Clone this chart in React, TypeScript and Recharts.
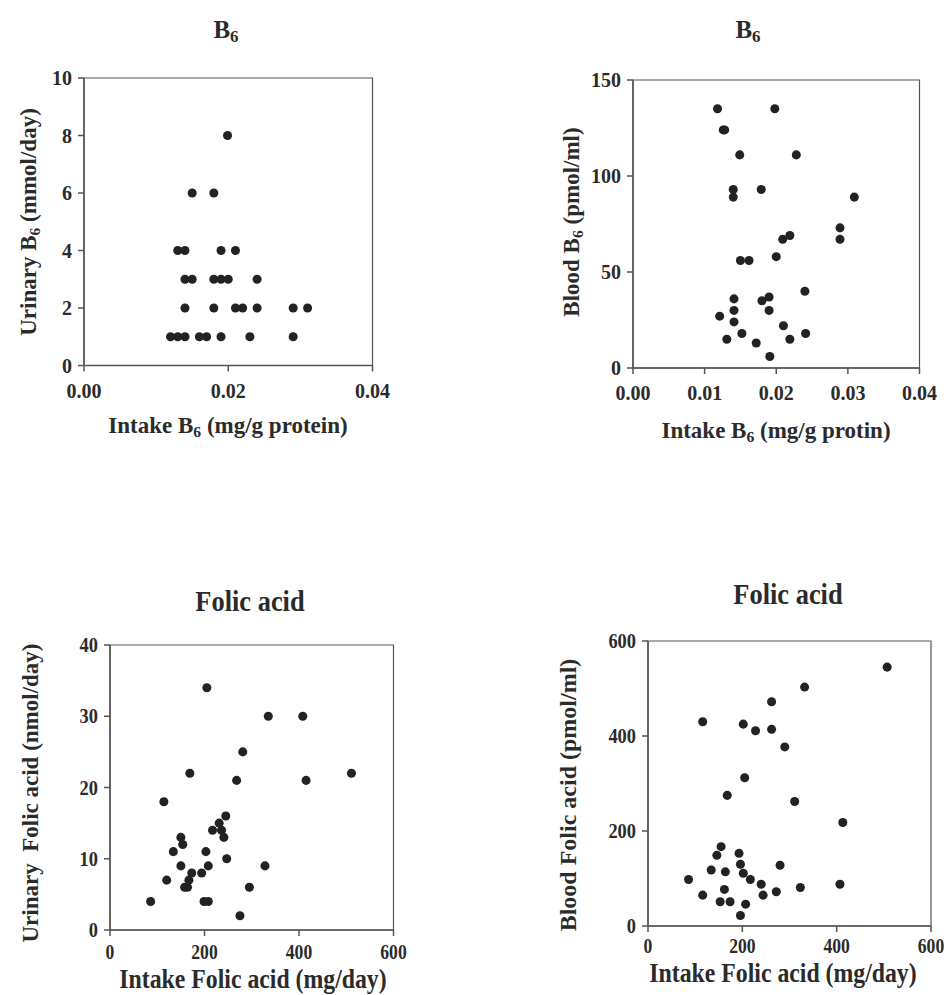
import React from 'react';
import { ScatterChart, Scatter, XAxis, YAxis, ReferenceArea } from 'recharts';

// B6: urinary excretion vs intake
const b6UrinaryIntake = [
  0.0199, 0.015, 0.018, 0.013, 0.014, 0.019, 0.021,
  0.014, 0.015, 0.018, 0.019, 0.02, 0.024,
  0.014, 0.018, 0.021, 0.022, 0.024, 0.029, 0.031,
  0.012, 0.013, 0.014, 0.016, 0.017, 0.019, 0.023, 0.029,
];
const b6UrinaryValues = [
  8, 6, 6, 4, 4, 4, 4,
  3, 3, 3, 3, 3, 3,
  2, 2, 2, 2, 2, 2, 2,
  1, 1, 1, 1, 1, 1, 1, 1,
];

// B6: blood level vs intake
const b6BloodIntake = [
  0.0118, 0.0198, 0.0126, 0.0128, 0.0149, 0.0228, 0.014, 0.014, 0.0179, 0.0309,
  0.0289, 0.0289, 0.0209, 0.0219, 0.015, 0.0162, 0.02, 0.024, 0.0141, 0.018,
  0.019, 0.0141, 0.019, 0.0121, 0.0141, 0.021, 0.0131, 0.0152, 0.0172, 0.0219,
  0.0241, 0.0191,
];
const b6BloodValues = [
  135, 135, 124, 124, 111, 111, 93, 89, 93, 89,
  73, 67, 67, 69, 56, 56, 58, 40, 36, 35,
  37, 30, 30, 27, 24, 22, 15, 18, 13, 15,
  18, 6,
];

// Folic acid: urinary excretion vs intake
const folicUrinaryIntake = [
  86, 120, 114, 134, 150, 154, 150, 158, 164, 167,
  173, 169, 194, 199, 208, 205, 203, 208, 217, 231,
  236, 241, 245, 247, 268, 281, 275, 295, 328, 335,
  408, 415, 511,
];
const folicUrinaryValues = [
  4, 7, 18, 11, 13, 12, 9, 6, 6, 7,
  8, 22, 8, 4, 4, 34, 11, 9, 14, 15,
  14, 13, 16, 10, 21, 25, 2, 6, 9, 30,
  30, 21, 22,
];

// Folic acid: blood level vs intake
const folicBloodIntake = [
  86, 116, 116, 134, 146, 155, 164, 168, 162, 153,
  174, 193, 196, 202, 196, 202, 205, 207, 217, 228,
  240, 244, 262, 262, 272, 280, 290, 311, 323, 332,
  407, 413, 507,
];
const folicBloodValues = [
  98, 65, 430, 118, 149, 167, 114, 275, 77, 51,
  51, 153, 130, 111, 22, 425, 312, 46, 98, 411,
  88, 65, 472, 414, 72, 128, 377, 262, 81, 503,
  88, 218, 545,
];

const b6XTicksUrinary = [0, 0.02, 0.04];
const b6XTicksBlood = [0, 0.01, 0.02, 0.03, 0.04];
const b6YTicksUrinary = [0, 2, 4, 6, 8, 10];
const b6YTicksBlood = [0, 50, 100, 150];
const folicXTicks = [0, 200, 400, 600];
const folicYTicksUrinary = [0, 10, 20, 30, 40];
const folicYTicksBlood = [0, 200, 400, 600];

const toPoints = (xs: number[], ys: number[]) => xs.map((x, i) => ({ x, y: ys[i] }));

const FONT = '"Liberation Serif", "Times New Roman", serif';
const INK = '#2b2b2b';
const AXIS = '#555';

const makeTick = (axis: 'x' | 'y', size: number, sx: number, fmt?: (v: number) => string) => (props: any) => {
  const { x, y, payload, textAnchor } = props;
  const label = fmt ? fmt(payload.value) : String(payload.value);
  return (
    <text
      transform={`translate(${x},${y}) scale(${sx},1)`}
      textAnchor={textAnchor}
      dy={axis === 'x' ? '0.71em' : '0.35em'}
      fontFamily={FONT}
      fontWeight="bold"
      fontSize={size}
      fill={INK}
    >
      {label}
    </text>
  );
};

interface PanelProps {
  data: { x: number; y: number }[];
  plot: { left: number; top: number; width: number; height: number };
  xDomain: [number, number];
  yDomain: [number, number];
  xTicks: number[];
  yTicks: number[];
  xFmt?: (v: number) => string;
  xMargin: number;
  condensed?: boolean;
}

function Panel({ data, plot, xDomain, yDomain, xTicks, yTicks, xFmt, xMargin, condensed }: PanelProps) {
  const yAxisW = 70;
  const xAxisH = 45;
  const padTop = 10;
  const padRight = 30;
  const width = plot.width + yAxisW + padRight;
  const height = plot.height + padTop + xAxisH;
  return (
    <div style={{ position: 'absolute', left: plot.left - yAxisW, top: plot.top - padTop }}>
      <ScatterChart width={width} height={height} margin={{ top: padTop, right: padRight, bottom: 0, left: 0 }}>
        <XAxis
          type="number"
          dataKey="x"
          domain={xDomain}
          ticks={xTicks}
          height={xAxisH}
          tickSize={6}
          tickMargin={xMargin}
          stroke={AXIS}
          strokeWidth={1.5}
          tick={condensed ? makeTick('x', 22, 0.8, xFmt) : makeTick('x', 20, 1, xFmt)}
          allowDataOverflow
        />
        <YAxis
          type="number"
          dataKey="y"
          domain={yDomain}
          ticks={yTicks}
          width={yAxisW}
          tickSize={6}
          tickMargin={6}
          stroke={AXIS}
          strokeWidth={1.5}
          tick={makeTick('y', 20, condensed ? 0.92 : 1)}
          allowDataOverflow
        />
        <ReferenceArea
          x1={xDomain[0]}
          x2={xDomain[1]}
          y1={yDomain[0]}
          y2={yDomain[1]}
          fill="none"
          stroke={AXIS}
          strokeWidth={1.2}
          ifOverflow="visible"
        />
        <Scatter data={data} fill="#222" isAnimationActive={false} />
      </ScatterChart>
    </div>
  );
}

const textBase: React.CSSProperties = {
  position: 'absolute',
  fontFamily: FONT,
  fontWeight: 'bold',
  color: INK,
  whiteSpace: 'nowrap',
  lineHeight: 1,
};

function Label({ x, y, rotate, size = 23, sx = 1, children }: any) {
  return (
    <div
      style={{
        ...textBase,
        left: x,
        top: y,
        fontSize: size,
        transform: `translate(-50%,-50%) ${rotate ? 'rotate(-90deg)' : ''} scaleX(${sx})`,
      }}
    >
      {children}
    </div>
  );
}

const Sub = ({ children }: any) => (
  <sub style={{ fontSize: '0.68em', verticalAlign: '-0.25em' }}>{children}</sub>
);

export default function App() {
  const fmt2 = (v: number) => v.toFixed(2);
  return (
    <div style={{ position: 'absolute', left: 0, top: 0, width: 950, height: 995, background: '#fff', overflow: 'hidden' }}>
      <Panel
        data={toPoints(b6UrinaryIntake, b6UrinaryValues)}
        plot={{ left: 83.5, top: 77.5, width: 288.5, height: 287.5 }}
        xDomain={[0, 0.04]}
        yDomain={[0, 10]}
        xTicks={b6XTicksUrinary}
        yTicks={b6YTicksUrinary}
        xFmt={fmt2}
        xMargin={12}
      />
      <Panel
        data={toPoints(b6BloodIntake, b6BloodValues)}
        plot={{ left: 633, top: 80, width: 286.5, height: 288 }}
        xDomain={[0, 0.04]}
        yDomain={[0, 150]}
        xTicks={b6XTicksBlood}
        yTicks={b6YTicksBlood}
        xFmt={fmt2}
        xMargin={12}
      />
      <Panel
        data={toPoints(folicUrinaryIntake, folicUrinaryValues)}
        plot={{ left: 110, top: 644.5, width: 283.5, height: 285 }}
        xDomain={[0, 600]}
        yDomain={[0, 40]}
        xTicks={folicXTicks}
        yTicks={folicYTicksUrinary}
        xMargin={7}
        condensed
      />
      <Panel
        data={toPoints(folicBloodIntake, folicBloodValues)}
        plot={{ left: 648, top: 641, width: 283, height: 285 }}
        xDomain={[0, 600]}
        yDomain={[0, 600]}
        xTicks={folicXTicks}
        yTicks={folicYTicksBlood}
        xMargin={5}
        condensed
      />

      {/* titles */}
      <Label x={226} y={31} size={25}>
        B<Sub>6</Sub>
      </Label>
      <Label x={748} y={31} size={25}>
        B<Sub>6</Sub>
      </Label>
      <Label x={250} y={601} size={30} sx={0.88}>
        Folic acid
      </Label>
      <Label x={788} y={594} size={30} sx={0.88}>
        Folic acid
      </Label>

      {/* x labels */}
      <Label x={228} y={427}>
        Intake B<Sub>6</Sub> (mg/g protein)
      </Label>
      <Label x={776} y={432}>
        Intake B<Sub>6</Sub> (mg/g protin)
      </Label>
      <Label x={253} y={979} size={27} sx={0.88}>
        Intake Folic acid (mg/day)
      </Label>
      <Label x={783} y={973} size={27} sx={0.88}>
        Intake Folic acid (mg/day)
      </Label>

      {/* y labels */}
      <Label x={30} y={222} rotate>
        Urinary B<Sub>6</Sub> (mmol/day)
      </Label>
      <Label x={573} y={222} rotate>
        Blood B<Sub>6</Sub> (pmol/ml)
      </Label>
      <Label x={30} y={793} rotate>
        Urinary&nbsp;&nbsp;Folic acid (nmol/day)
      </Label>
      <Label x={568} y={795} rotate size={24}>
        Blood Folic acid (pmol/ml)
      </Label>
    </div>
  );
}
